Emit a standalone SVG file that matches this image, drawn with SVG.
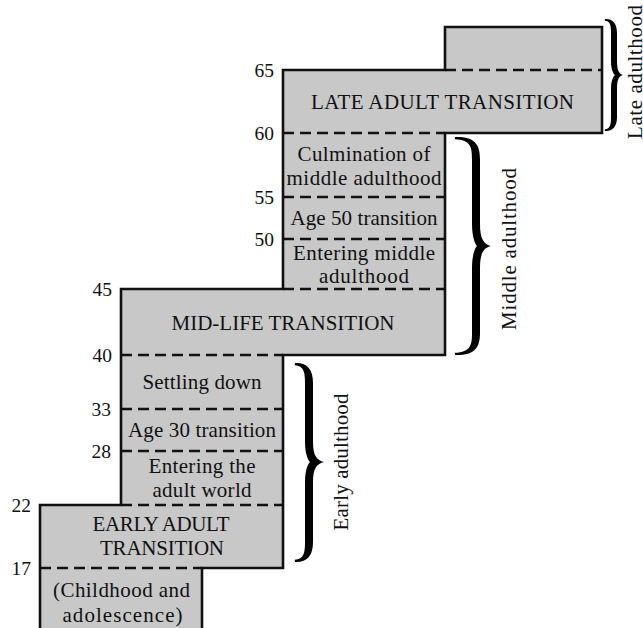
<svg xmlns="http://www.w3.org/2000/svg" width="643" height="628" viewBox="0 0 643 628">
  <style>
    .step { fill: #c8c8c8; stroke: #111; stroke-width: 2.6; stroke-linejoin: miter; }
    .dash { fill: none; stroke: #111; stroke-width: 2.6; stroke-dasharray: 11 6; }
    .brace { fill: #000; stroke: none; }
    text { font-family: "Liberation Serif", "Times New Roman", serif; fill: #111; }
    .lbl { font-size: 21px; text-anchor: middle; }
    .num { font-size: 19.5px; text-anchor: end; }
    .side { font-size: 21px; text-anchor: middle; }
  </style>

  <!-- staircase body: one filled outline for all stages -->
  <g id="staircase">
    <polygon class="step" points="40,640 40,505 121,505 121,289 283,289 283,70 445,70 445,27 602,27 602,133 445,133 445,355 283,355 283,568 202,568 202,640"/>
  </g>

  <!-- dashed boundaries between stages -->
  <g id="connectors">
    <line class="dash" x1="445" y1="70" x2="602" y2="70"/>
    <line class="dash" x1="283" y1="133" x2="445" y2="133"/>
    <line class="dash" x1="283" y1="197" x2="445" y2="197"/>
    <line class="dash" x1="283" y1="239" x2="445" y2="239"/>
    <line class="dash" x1="283" y1="289" x2="445" y2="289"/>
    <line class="dash" x1="121" y1="355" x2="283" y2="355"/>
    <line class="dash" x1="121" y1="409" x2="283" y2="409"/>
    <line class="dash" x1="121" y1="451" x2="283" y2="451"/>
    <line class="dash" x1="121" y1="505" x2="283" y2="505"/>
    <line class="dash" x1="40" y1="568" x2="202" y2="568"/>
  </g>

  <!-- stage labels -->
  <g id="late-adult-transition">
    <text class="lbl" x="442.5" y="109" textLength="263">LATE ADULT TRANSITION</text>
  </g>
  <g id="culmination-middle">
    <text class="lbl" x="364" y="161" textLength="133">Culmination of</text>
    <text class="lbl" x="364" y="185" textLength="155">middle adulthood</text>
  </g>
  <g id="age-50-transition">
    <text class="lbl" x="364" y="225" textLength="147">Age 50 transition</text>
  </g>
  <g id="entering-middle">
    <text class="lbl" x="364" y="260" textLength="142">Entering middle</text>
    <text class="lbl" x="364" y="283" textLength="90">adulthood</text>
  </g>
  <g id="mid-life-transition">
    <text class="lbl" x="283" y="330" textLength="223">MID-LIFE TRANSITION</text>
  </g>
  <g id="settling-down">
    <text class="lbl" x="202" y="389" textLength="119">Settling down</text>
  </g>
  <g id="age-30-transition">
    <text class="lbl" x="202" y="437" textLength="148">Age 30 transition</text>
  </g>
  <g id="entering-adult-world">
    <text class="lbl" x="202" y="473" textLength="107">Entering the</text>
    <text class="lbl" x="202" y="497" textLength="99">adult world</text>
  </g>
  <g id="early-adult-transition">
    <text class="lbl" x="161" y="531" textLength="137">EARLY ADULT</text>
    <text class="lbl" x="162" y="555" textLength="124">TRANSITION</text>
  </g>
  <g id="childhood">
    <text class="lbl" x="121.5" y="597" textLength="137">(Childhood and</text>
    <text class="lbl" x="122.5" y="622" textLength="120">adolescence)</text>
  </g>

  <!-- age markers -->
  <g id="ages">
    <text class="num" x="274" y="77">65</text>
    <text class="num" x="274" y="140">60</text>
    <text class="num" x="274" y="204">55</text>
    <text class="num" x="274" y="246">50</text>
    <text class="num" x="112" y="296">45</text>
    <text class="num" x="112" y="362">40</text>
    <text class="num" x="111" y="416">33</text>
    <text class="num" x="111" y="458">28</text>
    <text class="num" x="31" y="512">22</text>
    <text class="num" x="31" y="575">17</text>
  </g>

  <!-- era braces -->
  <g id="late-adulthood">
    <path class="brace" d="M605,19 C612.5,18.6 617,23.2 617,33 L617,61 C617,70.8 619.1,73.8 623,75 C619.1,76.2 617,79.2 617,89 L617,117 C617,126.8 612.5,131.4 605,131 L604.8,129.2 C610.5,129 611,124 611,117 L611,89 C611,80 613.7,75.7 615,75 C613.7,74.3 611,70 611,61 L611,33 C611,26 610.5,21 604.8,20.8 Z"/>
    <text class="side" transform="translate(642,72) rotate(-90)" textLength="134">Late adulthood</text>
  </g>
  <g id="middle-adulthood">
    <path class="brace" d="M455,137 C474,136.5 480,143.6 480,159 L480,224 C480,239.4 483.9,244.2 491,246 C483.9,247.8 480,252.6 480,268 L480,333 C480,348.4 474,355.5 455,355 L454.7,352.8 C471.2,352.5 472,344 472,333 L472,268 C472,253.7 475.7,247 477,246 C475.7,245 472,238.3 472,224 L472,159 C472,148 471.2,139.5 454.7,139.2 Z"/>
    <text class="side" transform="translate(516,249) rotate(-90)" textLength="162">Middle adulthood</text>
  </g>
  <g id="early-adulthood">
    <path class="brace" d="M295,363 C307,362.5 313,369 313,383 L313,442 C313,456 316.9,460.2 324,462 C316.9,463.8 313,468 313,482 L313,542 C313,556 307,562.5 295,562 L294.7,559.8 C304.2,559.5 305,552 305,542 L305,482 C305,469 308.7,463 310,462 C308.7,461 305,455 305,442 L305,383 C305,373 304.2,365.5 294.7,365.2 Z"/>
    <text class="side" transform="translate(348,462) rotate(-90)" textLength="137">Early adulthood</text>
  </g>
</svg>
